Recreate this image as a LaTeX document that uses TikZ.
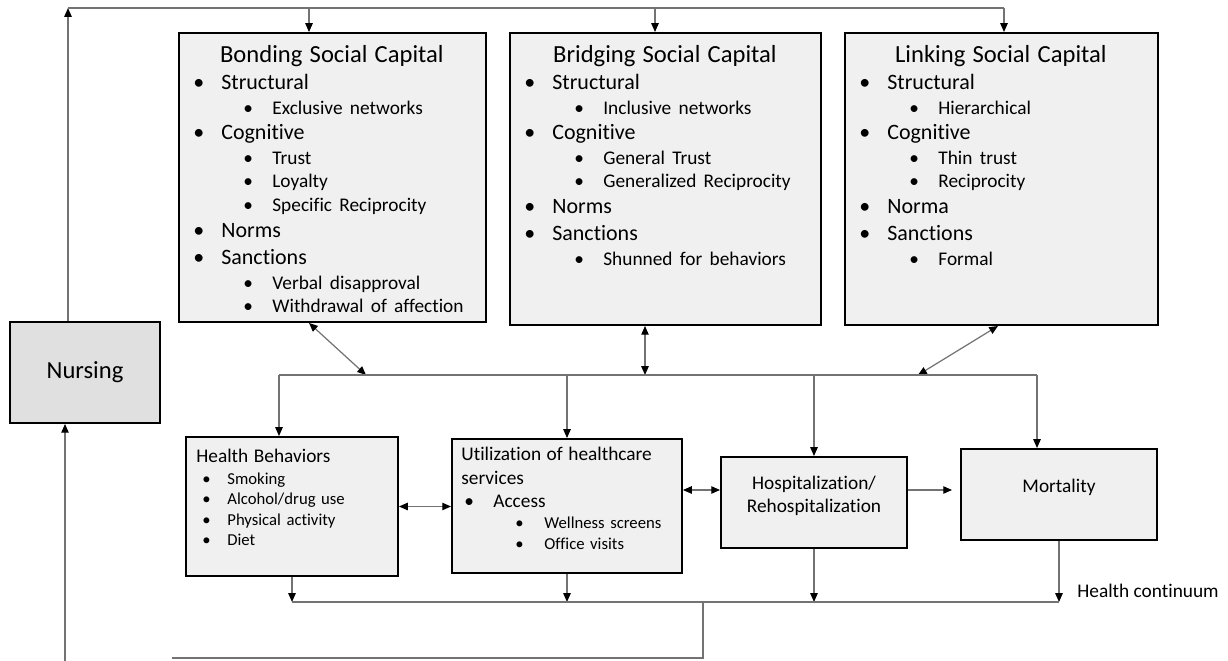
\documentclass[tikz,border=0pt]{standalone}
\usepackage{fontspec}
\setmainfont{Carlito}[Ligatures=NoCommon]
\usetikzlibrary{arrows.meta,fit,positioning}

\newlength\pxu
\setlength\pxu{0.02cm}
\newcommand\capfont{\fontsize{14}{16}\selectfont}
\newcommand\itemA[1]{\hspace*{15\pxu}\makebox[28\pxu][l]{\textbullet}#1}
\newcommand\itemB[1]{{\fontsize{11}{13}\selectfont\hspace*{65\pxu}\makebox[29\pxu][l]{\textbullet}#1}}
\newcommand\itemC[1]{\hspace*{17\pxu}\makebox[25\pxu][l]{\textbullet}#1}

\tikzset{
  capbox/.style={draw=black, line width=1.1pt, fill=black!6, inner sep=0pt},
  captext/.style={anchor=north west, inner sep=0pt, align=left, font=\fontsize{12.5}{14.2}\selectfont},
  outtext/.style={anchor=north west, inner sep=0pt, align=left, font=\fontsize{9.5}{11.5}\selectfont},
  link/.style={draw=black!55, line width=0.7pt},
  arr/.style={link, -{Triangle[length=5pt,width=4.2pt,color=black]}},
  darr/.style={link, {Triangle[length=5pt,width=4.2pt,color=black]}-{Triangle[length=5pt,width=4.2pt,color=black]}},
}

\begin{document}
\begin{tikzpicture}[x=0.02cm, y=-0.02cm]
\useasboundingbox (0,0) rectangle (1228,661);

% social capital
\node[capbox, fit={(179,33) (486,322)}] (bond) {};
\node[capbox, fit={(510,33) (821,325)}] (brid) {};
\node[capbox, fit={(845,33) (1158,325)}] (link) {};

\node[captext, text width=307\pxu] (bondtxt) at ([yshift=-13\pxu]bond.north west) {
  \makebox[\hsize]{\capfont Bonding Social Capital}\\[1.1pt]
  \itemA{Structural}\\
  \itemB{Exclusive networks}\\
  \itemA{Cognitive}\\
  \itemB{Trust}\\[-0.8pt]
  \itemB{Loyalty}\\[-0.8pt]
  \itemB{Specific Reciprocity}\\[0.8pt]
  \itemA{Norms}\\[1.1pt]
  \itemA{Sanctions}\\
  \itemB{Verbal disapproval}\\[-0.8pt]
  \itemB{Withdrawal of affection}};
\node[captext, text width=311\pxu] (bridtxt) at ([yshift=-13\pxu]brid.north west) {
  \makebox[\hsize]{\capfont Bridging Social Capital}\\[1.1pt]
  \itemA{Structural}\\
  \itemB{Inclusive networks}\\
  \itemA{Cognitive}\\
  \itemB{General Trust}\\[-0.8pt]
  \itemB{Generalized Reciprocity}\\[0.5pt]
  \itemA{Norms}\\[1.1pt]
  \itemA{Sanctions}\\
  \itemB{Shunned for behaviors}};
\node[captext, text width=313\pxu] (linktxt) at ([yshift=-13\pxu]link.north west) {
  \makebox[\hsize]{\capfont Linking Social Capital}\\[1.1pt]
  \itemA{Structural}\\
  \itemB{Hierarchical}\\
  \itemA{Cognitive}\\
  \itemB{Thin trust}\\[-0.8pt]
  \itemB{Reciprocity}\\[0.5pt]
  \itemA{Norma}\\[1.1pt]
  \itemA{Sanctions}\\
  \itemB{Formal}};

% nursing
\node[capbox, fill=black!12, fit={(10,322) (160,423)}] (nurse) {};
\node[font=\capfont] (nursetxt) at (nurse.center) {Nursing};

% outcomes
\node[capbox, fit={(186,437) (398,576)}] (hb) {};
\node[capbox, fit={(452,439) (682,573)}] (util) {};
\node[capbox, fit={(721,457) (907,548)}] (hosp) {};
\node[capbox, fit={(961,449) (1157,540)}] (mort) {};

\node[outtext, text width=212\pxu] (hbtxt) at ([yshift=-13\pxu]hb.north west) {
  \hspace*{11\pxu}{\fontsize{11}{13}\selectfont Health Behaviors}\\[1pt]
  \itemC{Smoking}\\
  \itemC{Alcohol/drug use}\\
  \itemC{Physical activity}\\
  \itemC{Diet}};
\node[outtext, text width=230\pxu, font=\fontsize{9.5}{12}\selectfont] (utiltxt) at ([yshift=-9\pxu]util.north west) {
  \hspace*{10\pxu}{\fontsize{11}{13}\selectfont Utilization of healthcare}\\[1.6pt]
  \hspace*{10\pxu}{\fontsize{11}{13}\selectfont services}\\[1pt]
  {\fontsize{11}{13}\selectfont\hspace*{13\pxu}\makebox[29\pxu][l]{\textbullet}Access}\\
  \hspace*{64\pxu}\makebox[29\pxu][l]{\textbullet}Wellness screens\\
  \hspace*{64\pxu}\makebox[29\pxu][l]{\textbullet}Office visits};
\node[align=center, font=\fontsize{11}{13}\selectfont] (hosptxt) at ([yshift=7\pxu]hosp.center) {Hospitalization/\\Rehospitalization};
\node[font=\fontsize{11}{13}\selectfont] (morttxt) at ([yshift=7\pxu]mort.center) {Mortality};
\node[anchor=base west, inner sep=0pt, font=\fontsize{11}{13}\selectfont] (hcont) at (1077,598) {Health continuum};

% feedback line along the top
\coordinate (topL) at (68,8);
\coordinate (topR) at (1004,8);
\coordinate (c1) at (309,0);
\coordinate (c2) at (655,0);
\draw[arr] (nurse.north -| topL) -- (topL);
\draw[link] (topL) -- (topR);
\draw[arr] (topL -| c1) -- (bond.north -| c1);
\draw[arr] (topL -| c2) -- (brid.north -| c2);
\draw[arr] (topR) -- (link.north -| topR);

% middle line
\coordinate (midL) at (279,375);
\coordinate (midR) at (1037,375);
\coordinate (m1) at (366,375);
\coordinate (m2) at (645,375);
\coordinate (m3) at (918,375);
\coordinate (c5) at (998,0);
\draw[darr] (bond.south -| c1) -- (m1);
\draw[darr] (brid.south -| m2) -- (m2);
\draw[darr] (link.south -| c5) -- (m3);
\draw[link] (midL) -- (midR);
\draw[arr] (midL) -- (hb.north -| midL);
\draw[arr] (util.north |- midL) -- (util.north);
\draw[arr] (hosp.north |- midL) -- (hosp.north);
\draw[arr] (midR) -- (mort.north -| midR);

% between outcomes
\coordinate (r1) at (0,490);
\draw[darr] (hb.east) -- (util.west |- hb.east);
\draw[darr] (util.east |- r1) -- (hosp.west |- r1);
\draw[arr] (hosp.east |- r1) -- ([xshift=-8\pxu]mort.west |- r1);

% health continuum and back to nursing
\coordinate (botL) at (0,602);
\coordinate (botM) at (703,602);
\coordinate (botB) at (703,658);
\coordinate (botE) at (172,658);
\coordinate (nb) at (65,661);
\draw[arr] (hb.south) -- (hb.south |- botL);
\draw[arr] (util.south) -- (util.south |- botL);
\draw[arr] (hosp.south) -- (hosp.south |- botL);
\draw[arr] (mort.south) -- (mort.south |- botL);
\draw[link] (hb.south |- botL) -- (mort.south |- botL);
\draw[link] (botM) -- (botB) -- (botE);
\draw[arr] (nb) -- (nurse.south -| nb);
\end{tikzpicture}
\end{document}
